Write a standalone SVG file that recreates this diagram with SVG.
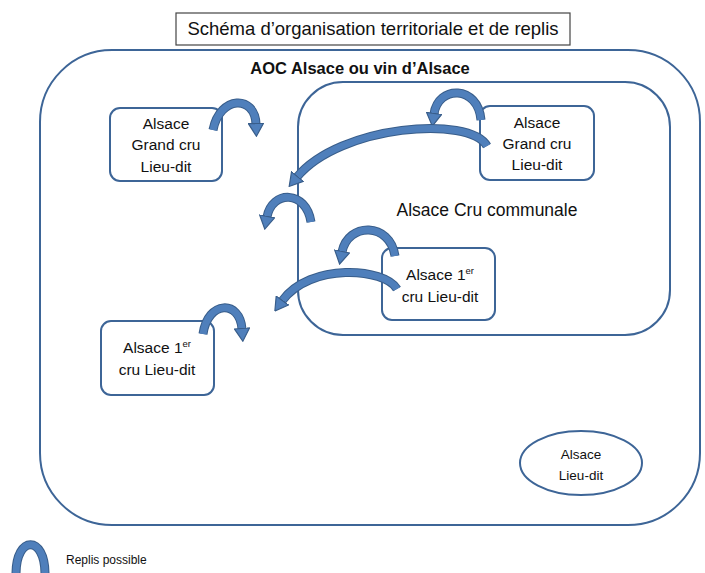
<svg xmlns="http://www.w3.org/2000/svg" width="705" height="573" viewBox="0 0 705 573">
<style>
text{font-family:"Liberation Sans",Arial,sans-serif;fill:#111;text-anchor:middle}
.box{fill:#fff;stroke:#3d6597;stroke-width:2}
.zone{fill:none;stroke:#3d6597;stroke-width:2}
.lbl{font-size:15.5px}
.bo{fill:none;stroke:#385d8a;stroke-width:9}
.bi{fill:none;stroke:#4f7fbb;stroke-width:7;marker-end:url(#head)}
.bl{fill:none;stroke:#4f7fbb;stroke-width:7}
</style>
<defs>
<marker id="head" viewBox="0 0 12 14" refX="1" refY="7" markerWidth="2" markerHeight="2.4" orient="auto" markerUnits="strokeWidth">
<path d="M0.5,0.5 L11.5,7 L0.5,13.5 Z" fill="#4f7fbb" stroke="#385d8a" stroke-width="1"/>
</marker>
</defs>
<rect x="0" y="0" width="705" height="573" fill="#fff"/>
<g id="title">
<rect x="176" y="13" width="394" height="32" fill="#fff" stroke="#444" stroke-width="1.2"/>
<text x="373" y="35" font-size="18.5">Schéma d’organisation territoriale et de replis</text>
</g>
<g id="aoc">
<rect class="zone" x="40" y="50" width="660" height="475" rx="72" ry="72"/>
<text x="360" y="74" font-size="16.5" font-weight="bold">AOC Alsace ou vin d’Alsace</text>
</g>
<g id="communale">
<rect class="zone" x="298" y="82" width="372" height="253" rx="45" ry="45"/>
<text x="487" y="216" font-size="17.5">Alsace Cru communale</text>
</g>
<g id="gc-left">
<rect class="box" x="110" y="108" width="112" height="73" rx="10"/>
<text class="lbl" x="166" y="129">Alsace</text>
<text class="lbl" x="166" y="150">Grand cru</text>
<text class="lbl" x="166" y="172">Lieu-dit</text>
</g>
<g id="gc-right">
<rect class="box" x="480" y="106" width="114" height="74" rx="10"/>
<text class="lbl" x="537" y="128">Alsace</text>
<text class="lbl" x="537" y="149">Grand cru</text>
<text class="lbl" x="537" y="170">Lieu-dit</text>
</g>
<g id="pc-inner">
<rect class="box" x="382" y="248" width="113" height="72" rx="10"/>
<text class="lbl" x="440" y="280">Alsace 1<tspan font-size="9.5" dy="-6">er</tspan></text>
<text class="lbl" x="440" y="302">cru Lieu-dit</text>
</g>
<g id="pc-left">
<rect class="box" x="101" y="321" width="113" height="74" rx="10"/>
<text class="lbl" x="157" y="353">Alsace 1<tspan font-size="9.5" dy="-6">er</tspan></text>
<text class="lbl" x="157" y="375">cru Lieu-dit</text>
</g>
<g id="lieudit">
<ellipse cx="581" cy="463" rx="61" ry="32" fill="#fff" stroke="#3d6597" stroke-width="2"/>
<text x="581" y="459" font-size="13.5">Alsace</text>
<text x="581" y="480" font-size="13.5">Lieu-dit</text>
</g>
<g id="connectors">
<path class="bo" d="M213,130 C220,95 255,95 256,124"/>
<path class="bi" d="M213,130 C220,95 255,95 256,124"/>
<path class="bo" d="M481,120 C478,85 438,85 434,114"/>
<path class="bi" d="M481,120 C478,85 438,85 434,114"/>
<path class="bo" d="M487,146 C470,115 340,125 297,177"/>
<path class="bi" d="M487,146 C470,115 340,125 297,177"/>
<path class="bo" d="M311,222 C306,190 272,190 267,217"/>
<path class="bi" d="M311,222 C306,190 272,190 267,217"/>
<path class="bo" d="M395,256 C390,222 348,222 342,252"/>
<path class="bi" d="M395,256 C390,222 348,222 342,252"/>
<path class="bo" d="M397,289 C385,268 310,262 282,301"/>
<path class="bi" d="M397,289 C385,268 310,262 282,301"/>
<path class="bo" d="M203,334 C208,300 240,300 242,329"/>
<path class="bi" d="M203,334 C208,300 240,300 242,329"/>
</g>
<g id="legend">
<path class="bo" d="M16,574 C16,535 45,535 45,574"/>
<path class="bl" d="M16,574 C16,535 45,535 45,574"/>
<text x="66" y="564" font-size="12" style="text-anchor:start">Replis possible</text>
</g>
</svg>
